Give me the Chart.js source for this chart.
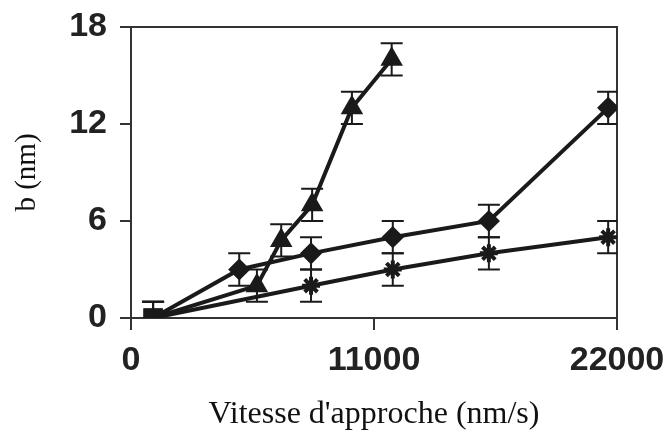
<!DOCTYPE html>
<html>
<head>
<meta charset="utf-8">
<script src="https://cdn.jsdelivr.net/npm/chart.js@4"></script>
<style>
  html, body { margin: 0; padding: 0; background: #fff; }
</style>
</head>
<body>
<canvas id="myChart" width="671" height="434"></canvas>
<script>
// values
var triX = [1000, 5700, 6800, 8200, 10000, 11800];
var triY = [0, 2, 4.8, 7, 13, 16];
var diaX = [1000, 4900, 8150, 11850, 16200, 21600];
var diaY = [0, 3, 4, 5, 6, 13];
var starX = [1000, 8150, 11850, 16200, 21600];
var starY = [0, 2, 3, 4, 5];
var errBar = 1; // +/- 1 nm on every point

var xTicks = [0, 11000, 22000];
var yTicks = [0, 6, 12, 18];

function toPoints(xs, ys) {
  return xs.map(function (x, i) { return { x: x, y: ys[i] }; });
}

// first point of every series is drawn as a square
function styles(n, style) {
  var s = [];
  for (var i = 0; i < n; i++) s.push(i === 0 ? 'rect' : style);
  return s;
}
function radii(n, r) {
  var s = [];
  for (var i = 0; i < n; i++) s.push(i === 0 ? 11 : r);
  return s;
}

var ink = '#1a1a1a';

var errorBars = {
  id: 'errorBars',
  afterDatasetsDraw: function (chart) {
    var ctx = chart.ctx, a = chart.chartArea;
    var xs = chart.scales.x, ys = chart.scales.y;
    ctx.save();
    ctx.beginPath();
    ctx.rect(a.left, a.top - 20, a.right - a.left, a.bottom - a.top + 20);
    ctx.clip();
    ctx.strokeStyle = ink;
    ctx.lineWidth = 2;
    chart.data.datasets.forEach(function (ds) {
      ds.data.forEach(function (p) {
        var px = xs.getPixelForValue(p.x);
        var top = ys.getPixelForValue(p.y + errBar);
        var bot = ys.getPixelForValue(p.y - errBar);
        ctx.beginPath();
        ctx.moveTo(px, top); ctx.lineTo(px, bot);
        ctx.moveTo(px - 11, top); ctx.lineTo(px + 11, top);
        ctx.moveTo(px - 11, bot); ctx.lineTo(px + 11, bot);
        ctx.stroke();
      });
    });
    ctx.restore();
  }
};

var frame = {
  id: 'frame',
  beforeDatasetsDraw: function (chart) {
    var a = chart.chartArea, ctx = chart.ctx;
    ctx.save();
    ctx.strokeStyle = '#333';
    ctx.lineWidth = 2;
    ctx.strokeRect(a.left, a.top, a.right - a.left, a.bottom - a.top);
    ctx.restore();
  }
};

var tickFont = { family: 'Liberation Sans', size: 34, weight: 'bold' };

var ctx = document.getElementById('myChart').getContext('2d');
var myChart = new Chart(ctx, {
  type: 'line',
  data: {
    datasets: [{
      data: toPoints(triX, triY),
      pointStyle: styles(triX.length, 'triangle'),
      pointRadius: radii(triX.length, 10),
      pointBorderWidth: 3,
      borderColor: ink,
      backgroundColor: ink,
      borderWidth: 4
    }, {
      data: toPoints(diaX, diaY),
      pointStyle: styles(diaX.length, 'rectRot'),
      pointRadius: radii(diaX.length, 9),
      pointBorderWidth: 3,
      borderColor: ink,
      backgroundColor: ink,
      borderWidth: 4
    }, {
      data: toPoints(starX, starY),
      pointStyle: styles(starX.length, 'star'),
      pointRadius: radii(starX.length, 9),
      pointBorderWidth: 4,
      borderColor: ink,
      backgroundColor: ink,
      borderWidth: 4
    }]
  },
  options: {
    responsive: false,
    animation: false,
    layout: { padding: { left: 0, right: 54, top: 27, bottom: 0 } },
    plugins: { legend: { display: false }, tooltip: { enabled: false } },
    scales: {
      x: {
        type: 'linear',
        min: 0, max: 22000,
        afterBuildTicks: function (s) { s.ticks = xTicks.map(function (v) { return { value: v }; }); },
        afterFit: function (s) { s.height = 116; s.paddingLeft = 0; s.paddingRight = 0; },
        grid: { drawOnChartArea: false, tickLength: 12, color: '#333', lineWidth: 2 },
        border: { color: '#333', width: 2 },
        ticks: {
          maxRotation: 0, padding: 10, color: '#222', font: tickFont,
          callback: function (v) { return String(v); }
        },
        title: {
          display: true, text: "Vitesse d'approche (nm/s)", color: '#111',
          font: { family: 'Liberation Serif', size: 32 },
          padding: { top: 0, bottom: 0 }
        }
      },
      y: {
        min: 0, max: 18,
        afterBuildTicks: function (s) { s.ticks = yTicks.map(function (v) { return { value: v }; }); },
        afterFit: function (s) { s.width = 131; s.paddingTop = 0; s.paddingBottom = 0; },
        grid: { drawOnChartArea: false, tickLength: 11, color: '#333', lineWidth: 2 },
        border: { color: '#333', width: 2 },
        ticks: { padding: 13, color: '#222', font: tickFont },
        title: {
          display: true, text: 'b (nm)', color: '#111',
          font: { family: 'Liberation Serif', size: 29 },
          padding: { top: 10, bottom: 0 }
        }
      }
    }
  },
  plugins: [frame, errorBars]
});
</script>
</body>
</html>
